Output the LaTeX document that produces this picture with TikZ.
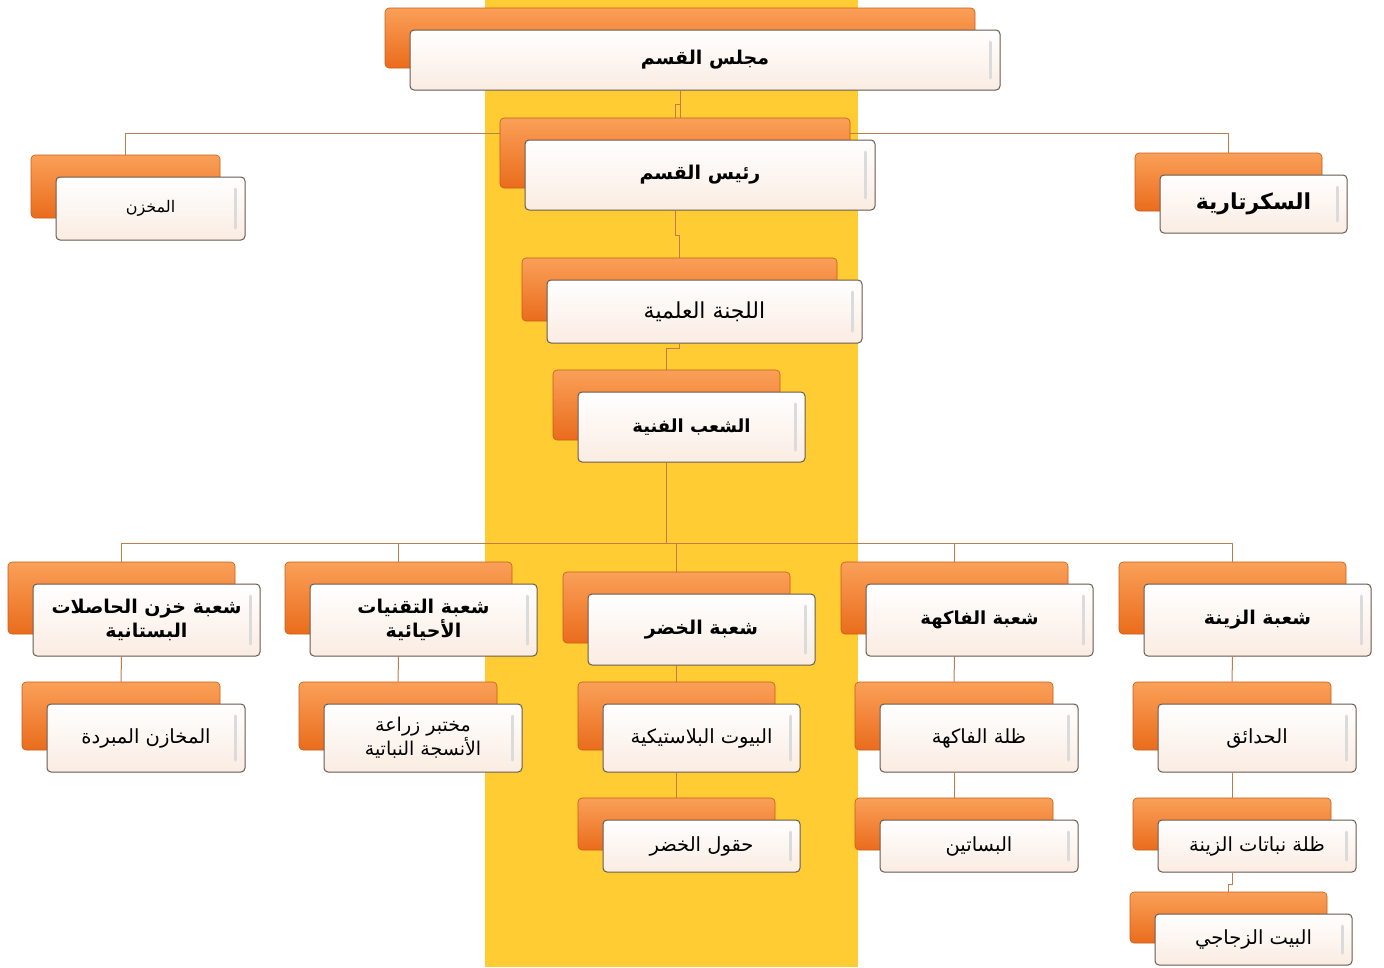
\documentclass[tikz,border=0pt]{standalone}
\usepackage{fontspec}
\newfontfamily\arabicfont[Script=Arabic]{DejaVu Sans}
\TeXXeTstate=1
\usetikzlibrary{shadows}
\definecolor{band}{RGB}{255,204,51}
\definecolor{orangetop}{RGB}{250,160,88}
\definecolor{orangebot}{RGB}{234,108,28}
\definecolor{linkcol}{RGB}{190,125,75}
\definecolor{boxline}{RGB}{105,90,80}
\definecolor{boxbot}{RGB}{250,236,226}
\newcommand\ar[1]{{\arabicfont\beginR #1\endR}}
\pgfdeclarelayer{bg}
\pgfsetlayers{bg,main}
\tikzset{
  box/.style={draw=boxline, line width=1pt, rounded corners=4pt,
    top color=white, bottom color=boxbot, inner sep=2pt, align=center,
    general shadow={shadow xshift=-25pt, shadow yshift=22pt,
      top color=orangetop, bottom color=orangebot, draw=orangebot!85!black, line width=0.6pt},
    path picture={\draw[black!14, line width=3pt]
      ([xshift=-10pt,yshift=-12pt]path picture bounding box.north east) --
      ([xshift=-10pt,yshift=12pt]path picture bounding box.south east);}},
  link/.style={draw=linkcol, line width=1pt},
  head/.style={box, font=\fontsize{19}{24}\selectfont\bfseries},
  plain/.style={box, font=\fontsize{19.5}{22}\selectfont},
  small/.style={box, font=\fontsize{16}{18}\selectfont},
}
% back box centre is 25pt left of the front box centre
\def\dn#1{([xshift=-25pt]#1.south)}
\def\up#1{([xshift=-25pt,yshift=22pt]#1.north)}
\begin{document}
\begin{tikzpicture}[x=1pt,y=-1pt,line join=round,line cap=round]
\useasboundingbox (0,0) rectangle (1384,967);

% top of the chart
\node[head, minimum width=590pt, minimum height=60pt] (majlis) at (705,60) {\ar{مجلس القسم}};
\node[head, minimum width=350pt, minimum height=70pt] (rais) at (700,175) {\ar{رئيس القسم}};
\node[small, minimum width=189pt, minimum height=63pt] (makhzan) at (150.5,208.5) {\ar{المخزن}};
\node[head, minimum width=187pt, minimum height=58pt, font=\fontsize{22}{24}\selectfont\bfseries] (sec) at (1253.5,204) {\ar{السكرتارية}};
\node[plain, minimum width=315pt, minimum height=63pt, font=\fontsize{22}{24}\selectfont] (lajna) at (704.5,311.5) {\ar{اللجنة العلمية}};
\node[head, minimum width=227pt, minimum height=70pt, font=\fontsize{18}{24}\selectfont\bfseries] (shoab) at (691.5,427) {\ar{الشعب الفنية}};

% the five sections
\node[head, minimum width=227pt, minimum height=72pt] (khazn) at (146.5,620) {\ar{شعبة خزن الحاصلات}\\\ar{البستانية}};
\node[head, minimum width=227pt, minimum height=72pt] (taqn) at (423.5,620) {\ar{شعبة التقنيات}\\\ar{الأحيائية}};
\node[head, minimum width=227pt, minimum height=71pt] (khudar) at (701.5,629.5) {\ar{شعبة الخضر}};
\node[head, minimum width=227pt, minimum height=72pt, font=\fontsize{18}{24}\selectfont\bfseries] (fakiha) at (979.5,620) {\ar{شعبة الفاكهة}};
\node[head, minimum width=227pt, minimum height=72pt] (zina) at (1257.5,620) {\ar{شعبة الزينة}};

% units under the sections
\node[plain, minimum width=198pt, minimum height=68pt] (mubarrada) at (146,738) {\ar{المخازن المبردة}};
\node[plain, minimum width=198pt, minimum height=68pt, font=\fontsize{19}{21}\selectfont] (mukhtabar) at (423,738) {\ar{مختبر زراعة}\\\ar{الأنسجة النباتية}};
\node[plain, minimum width=197pt, minimum height=68pt] (buyut) at (701.5,738) {\ar{البيوت البلاستيكية}};
\node[plain, minimum width=198pt, minimum height=68pt] (zillaf) at (979,738) {\ar{ظلة الفاكهة}};
\node[plain, minimum width=198pt, minimum height=68pt] (hadaiq) at (1257,738) {\ar{الحدائق}};
\node[plain, minimum width=197pt, minimum height=52pt] (huqul) at (701.5,846) {\ar{حقول الخضر}};
\node[plain, minimum width=198pt, minimum height=52pt] (basatin) at (979,846) {\ar{البساتين}};
\node[plain, minimum width=198pt, minimum height=52pt] (zillaz) at (1257,846) {\ar{ظلة نباتات الزينة}};
\node[plain, minimum width=197pt, minimum height=51pt] (zujaji) at (1253.5,939.5) {\ar{البيت الزجاجي}};

\begin{pgfonlayer}{bg}
\fill[white] (0,0) rectangle (1384,967);
\fill[band] (485,0) rectangle (858,967);
\draw[link] \dn{majlis} -- ++(0,14) -| \up{rais};
\draw[link] \dn{majlis} -- ++(0,43) -| \up{makhzan};
\draw[link] \dn{majlis} -- ++(0,43) -| \up{sec};
\draw[link] \dn{rais} -- ++(0,25) -| \up{lajna};
\draw[link] \dn{lajna} -- ++(0,5) -| \up{shoab};
\foreach \c in {khazn,taqn,khudar,fakiha,zina}
  \draw[link] \dn{shoab} -- ++(0,81) -| \up{\c};
\draw[link] \dn{khazn} -- \up{mubarrada};
\draw[link] \dn{taqn} -- \up{mukhtabar};
\draw[link] \dn{khudar} -- \up{buyut};
\draw[link] \dn{buyut} -- \up{huqul};
\draw[link] \dn{fakiha} -- \up{zillaf};
\draw[link] \dn{zillaf} -- \up{basatin};
\draw[link] \dn{zina} -- \up{hadaiq};
\draw[link] \dn{hadaiq} -- \up{zillaz};
\draw[link] \dn{zillaz} -- ++(0,12) -| \up{zujaji};
\end{pgfonlayer}
\end{tikzpicture}
\end{document}
